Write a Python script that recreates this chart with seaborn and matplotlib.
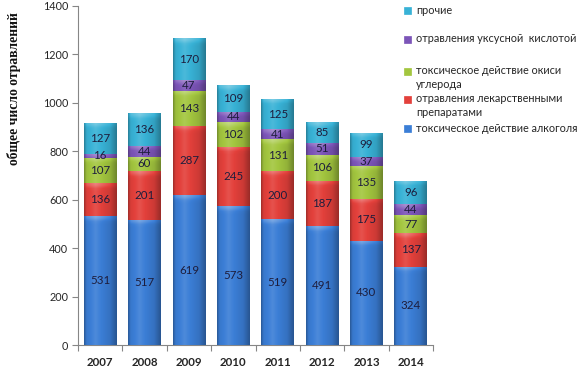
import numpy as np
import pandas as pd
import matplotlib
matplotlib.use("Agg")
import matplotlib.pyplot as plt
import seaborn as sns
from matplotlib.colors import to_rgb
from matplotlib.patches import Rectangle

years = ["2007", "2008", "2009", "2010", "2011", "2012", "2013", "2014"]
alcohol = [531, 517, 619, 573, 519, 491, 430, 324]
drugs = [136, 201, 287, 245, 200, 187, 175, 137]
carbon = [107, 60, 143, 102, 131, 106, 135, 77]
acetic = [16, 44, 47, 44, 41, 51, 37, 44]
other = [127, 136, 170, 109, 125, 85, 99, 96]

series_labels = [
    ["токсическое действие алкоголя"],
    ["отравления лекарственными", "препаратами"],
    ["токсическое действие окиси", "углерода"],
    ["отравления уксусной  кислотой"],
    ["прочие"],
]
colors = ["#3b7ed6", "#e3403b", "#a3c63f", "#7c55b8", "#38b2d6"]
ylabel = "общее число отравлений"

sns.set_theme(style="white")
plt.rcParams['font.family'] = ['Lato', 'DejaVu Sans']

W, H = 584, 372
fig = plt.figure(figsize=(W / 100, H / 100), dpi=100)
ax = fig.add_axes([78 / W, 1 - 345 / H, (433 - 78) / W, (345 - 6) / H])

layers = [alcohol, drugs, carbon, acetic, other]
cums = np.cumsum(np.array(layers), axis=0)
ymax = 1400
px_per_unit = (345 - 6) / ymax


def shade(base, f):
    base = np.array(base)
    out = np.where(f[..., None] >= 1, base + (1 - base) * (f[..., None] - 1) * 1.6, base * f[..., None])
    return np.clip(out, 0, 1)


for i in reversed(range(5)):
    df = pd.DataFrame({"year": years, "v": cums[i]})
    before = len(ax.patches)
    z = 2 + 2 * (4 - i)
    sns.barplot(data=df, x="year", y="v", color=colors[i], saturation=1,
                width=0.74, ax=ax, zorder=z, linewidth=0, errorbar=None)
    base = to_rgb(colors[i])
    for p in ax.patches[before:]:
        x0, w, h = p.get_x(), p.get_width(), p.get_height()
        nx, ny = 48, 200
        xs = np.linspace(0, 1, nx)
        fx = np.interp(xs, [0, 0.07, 0.35, 0.8, 1], [0.72, 0.95, 1.06, 0.9, 0.68])
        ys = np.linspace(0, h, ny)
        dist_top_px = (h - ys) * px_per_unit
        fy = np.interp(dist_top_px, [0, 1.5, 5, 8], [1.15, 1.13, 1.02, 1.0])
        f = fx[None, :] * fy[:, None]
        img = shade(base, f)
        im = ax.imshow(img, extent=[x0, x0 + w, 0, h], origin='lower', aspect='auto',
                       zorder=z + 0.5, interpolation='bilinear')
        im.set_clip_path(p)

ax.set_xlim(-0.5, 7.5)
ax.set_ylim(0, ymax)
ax.set_xlabel("")
ax.set_ylabel("")

for i in range(5):
    for j in range(len(years)):
        v = layers[i][j]
        ax.text(j, cums[i][j] - v / 2, str(v), ha='center', va='center',
                fontsize=8.3, color='#1d1d3c', zorder=30)

ax.set_yticks(range(0, ymax + 1, 200))
ax.tick_params(axis='y', length=4, width=0.8, color='#868686', labelsize=7.8,
               labelcolor='#262626', left=True, pad=3)
ax.set_xticks(range(len(years)))
ax.set_xticklabels(years, fontweight='bold')
ax.tick_params(axis='x', which='major', length=0, labelsize=8.3, labelcolor='#262626', pad=9)
ax.set_xticks(np.arange(-0.5, len(years), 1), minor=True)
ax.tick_params(axis='x', which='minor', length=4, width=0.8, color='#868686', bottom=True)
for s in ['top', 'right']:
    ax.spines[s].set_visible(False)
for s in ['left', 'bottom']:
    ax.spines[s].set_color('#868686')
    ax.spines[s].set_linewidth(0.8)

fig.text(14 / W, 1 - 89 / H, ylabel, rotation=90, ha='center', va='center',
         family=['Liberation Serif'], fontweight='bold', fontsize=9.8, color='#111111')

# legend
legend_y = [128, 99, 71, 39, 10]
for i in range(5):
    y = legend_y[i]
    fig.patches.append(Rectangle((404 / W, 1 - (y + 3.5) / H), 7 / W, 7 / H,
                                 transform=fig.transFigure, facecolor=colors[i],
                                 edgecolor=colors[i], linewidth=0.5))
    for k, line in enumerate(series_labels[i]):
        fig.text(416 / W, 1 - (y + 14 * k) / H, line, ha='left', va='center',
                 fontsize=7.8, color='#262626')

fig.savefig("out.png", dpi=100)
